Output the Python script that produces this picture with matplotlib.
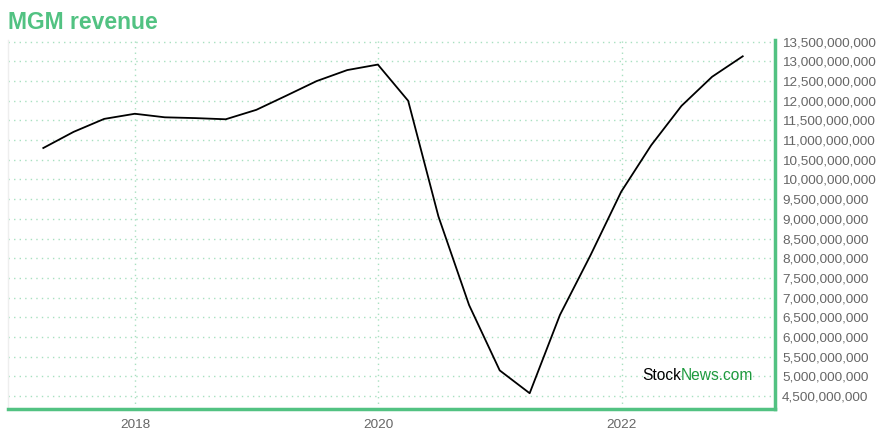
import matplotlib
matplotlib.use('Agg')
import matplotlib.pyplot as plt
import matplotlib.dates as mdates
from matplotlib.ticker import FuncFormatter, MultipleLocator
import pandas as pd

plt.rcParams['font.family'] = ['Liberation Sans', 'DejaVu Sans']

# 季度末日期和营收
quarters = pd.date_range('2017-03-31', periods=24, freq='QE')
revenue = [10.80, 11.21, 11.54, 11.67, 11.58, 11.56, 11.53, 11.77,
           12.13, 12.50, 12.78, 12.92, 12.00, 9.06, 6.81, 5.15,
           4.57, 6.56, 8.08, 9.69, 10.87, 11.87, 12.61, 13.13]
revenue = [v * 1e9 for v in revenue]

green = '#52c282'
grid_green = '#a8e0c0'

fig = plt.figure(figsize=(8.8, 4.4), dpi=100)
ax = fig.add_axes([0.0091, 0.0705, 0.8716, 0.8385])

ax.plot(quarters, revenue, color='black', linewidth=1.3)

ax.set_xlim(pd.Timestamp('2016-12-15'), pd.Timestamp('2023-04-07'))
ax.set_ylim(4.17e9, 13.543e9)

ax.xaxis.set_major_locator(mdates.YearLocator(2))
ax.xaxis.set_major_formatter(mdates.DateFormatter('%Y'))
ax.yaxis.set_major_locator(MultipleLocator(0.5e9))
ax.yaxis.set_major_formatter(FuncFormatter(lambda v, p: f'{v:,.0f}'))
ax.yaxis.tick_right()

ax.tick_params(axis='both', length=0, labelsize=9.7, colors='#666666')
ax.tick_params(axis='y', pad=5)
ax.tick_params(axis='x', pad=7)

ax.grid(True, color=grid_green, linestyle=(0, (1, 3)), linewidth=1)

ax.spines['top'].set_visible(False)
ax.spines['left'].set_color('#eeeeee')
ax.spines['left'].set_linewidth(1)
ax.spines['right'].set_color(green)
ax.spines['right'].set_linewidth(2.5)
ax.spines['bottom'].set_color(green)
ax.spines['bottom'].set_linewidth(2.5)

fig.text(0.009, 0.948, 'MGM revenue', color=green, fontsize=16.5,
         fontweight='bold', va='center', ha='left')

# 水印
t1 = ax.text(0.827, 0.09, 'Stock', transform=ax.transAxes, fontsize=11.2,
             color='black', ha='left', va='center')
fig.canvas.draw()
bb = t1.get_window_extent()
x2 = ax.transAxes.inverted().transform((bb.x1, bb.y0))[0]
ax.text(x2, 0.09, 'News.com', transform=ax.transAxes, fontsize=11.2,
        color='#1e9a3e', ha='left', va='center')

fig.savefig('out.png', dpi=100)
